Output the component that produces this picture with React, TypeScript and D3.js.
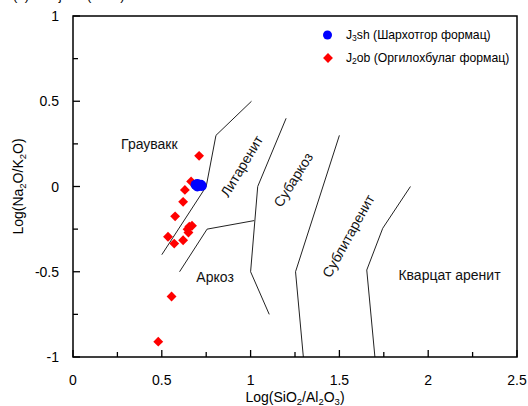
import React from "react";
import * as d3 from "d3";

// Sandstone classification: log(SiO2/Al2O3) vs log(Na2O/K2O)
const xTicks = [0, 0.5, 1, 1.5, 2, 2.5];
const yTicks = [-1, -0.5, 0, 0.5, 1];
const xMinorTicks = [0.25, 0.75, 1.25, 1.75, 2.25];
const yMinorTicks = [-0.75, -0.25, 0.25, 0.75];

// J3sh samples [log(SiO2/Al2O3), log(Na2O/K2O)]
const j3shPoints: [number, number][] = [
  [0.69, 0.01],
  [0.7, 0.015],
  [0.71, 0.005],
  [0.72, 0.01],
  [0.7, 0.0],
  [0.725, 0.003],
];

// J2ob samples
const j2obPoints: [number, number][] = [
  [0.71, 0.18],
  [0.665, 0.03],
  [0.63, -0.02],
  [0.62, -0.09],
  [0.575, -0.175],
  [0.655, -0.235],
  [0.67, -0.23],
  [0.645, -0.25],
  [0.65, -0.27],
  [0.535, -0.295],
  [0.57, -0.335],
  [0.62, -0.315],
  [0.555, -0.645],
  [0.48, -0.91],
];

// Field boundaries
const boundaries: [number, number][][] = [
  [[0.5, -0.4], [0.75, 0.0], [0.805, 0.3], [1.005, 0.5]],
  [[0.6, -0.5], [0.755, -0.25], [1.02, -0.2]],
  [[1.2, 0.4], [1.04, 0.0], [1.0, -0.5], [1.105, -0.75]],
  [[1.5, 0.3], [1.253, -0.5], [1.297, -1.0]],
  [[1.9, 0.0], [1.744, -0.245], [1.654, -0.49], [1.7, -1.0]],
];

// Field names: [x, y, rotation]
const fieldNames = ["Граувакк", "Литаренит", "Аркоз", "Субаркоз", "Сублитаренит", "Кварцат аренит"];
const fieldPos: [number, number, number][] = [
  [0.43, 0.25, 0],
  [0.95, 0.12, -59],
  [0.8, -0.53, 0],
  [1.24, 0.04, -58],
  [1.55, -0.29, -61],
  [2.12, -0.52, 0],
];

const seriesNames = ["J₃sh (Шархотгор формац)", "J₂ob (Оргилохбулаг формац)"];
const seriesColors = ["#0000ff", "#ff0000"];

const W = 528;
const H = 406;
const left = 73;
const right = 517;
const top = 16;
const bottom = 357;
const font = "Arial, 'Liberation Sans', sans-serif";

export default function App() {
  const x = d3.scaleLinear().domain([0, 2.5]).range([left, right]);
  const y = d3.scaleLinear().domain([-1, 1]).range([bottom, top]);
  const line = d3
    .line<[number, number]>()
    .x((d) => x(d[0]))
    .y((d) => y(d[1]));
  const diamond = d3.symbol(d3.symbolDiamond2, 62)();

  return (
    <svg
      width={W}
      height={H}
      style={{ position: "absolute", left: 0, top: 0, background: "#fff" }}
      fontFamily={font}
    >
      <rect x={0} y={0} width={W} height={H} fill="#fff" />
      <text x={13} y={-0.5} fontSize={13} fill="#000">
        (б) Pettijohn (1972)
      </text>

      {/* field boundaries */}
      {boundaries.map((b, i) => (
        <path key={i} d={line(b) ?? ""} fill="none" stroke="#222" strokeWidth={1} />
      ))}

      {/* field names */}
      {fieldNames.map((n, i) => {
        const [fx, fy, r] = fieldPos[i];
        return (
          <text
            key={n}
            x={x(fx)}
            y={y(fy)}
            fontSize={14}
            textAnchor="middle"
            dominantBaseline="central"
            transform={`rotate(${r},${x(fx)},${y(fy)})`}
            fill="#111"
          >
            {n}
          </text>
        );
      })}

      {/* samples */}
      {j2obPoints.map((p, i) => (
        <path key={"r" + i} d={diamond ?? ""} transform={`translate(${x(p[0])},${y(p[1])})`} fill={seriesColors[1]} />
      ))}
      {j3shPoints.map((p, i) => (
        <circle key={"b" + i} cx={x(p[0])} cy={y(p[1])} r={5} fill={seriesColors[0]} />
      ))}

      {/* frame */}
      <rect x={left} y={top} width={right - left} height={bottom - top} fill="none" stroke="#000" strokeWidth={1.5} />

      {/* ticks */}
      {yTicks.map((t) => (
        <g key={"yt" + t}>
          <line x1={left} x2={left + 7} y1={y(t)} y2={y(t)} stroke="#000" strokeWidth={1.3} />
          <text x={left - 14} y={y(t)} fontSize={14} textAnchor="end" dominantBaseline="central">
            {t}
          </text>
        </g>
      ))}
      {yMinorTicks.map((t) => (
        <line key={"ym" + t} x1={left} x2={left + 5} y1={y(t)} y2={y(t)} stroke="#000" strokeWidth={1.3} />
      ))}
      {xTicks.map((t) => (
        <g key={"xt" + t}>
          <line x1={x(t)} x2={x(t)} y1={bottom} y2={bottom - 7} stroke="#000" strokeWidth={1.3} />
          <text x={x(t)} y={380} fontSize={14} textAnchor="middle" dominantBaseline="central">
            {t}
          </text>
        </g>
      ))}
      {xMinorTicks.map((t) => (
        <line key={"xm" + t} x1={x(t)} x2={x(t)} y1={bottom} y2={bottom - 5} stroke="#000" strokeWidth={1.3} />
      ))}

      {/* axis titles */}
      <text x={(left + right) / 2} y={402} fontSize={14} textAnchor="middle">
        Log(SiO<tspan fontSize={9.5} dy={3}>2</tspan>
        <tspan dy={-3}>/Al</tspan>
        <tspan fontSize={9.5} dy={3}>2</tspan>
        <tspan dy={-3}>O</tspan>
        <tspan fontSize={9.5} dy={3}>3</tspan>
        <tspan dy={-3}>)</tspan>
      </text>
      <text transform={`translate(23,${(top + bottom) / 2}) rotate(-90)`} fontSize={14} textAnchor="middle">
        Log(Na<tspan fontSize={9.5} dy={3}>2</tspan>
        <tspan dy={-3}>O/K</tspan>
        <tspan fontSize={9.5} dy={3}>2</tspan>
        <tspan dy={-3}>O)</tspan>
      </text>

      {/* legend */}
      <circle cx={327.5} cy={35} r={4.5} fill={seriesColors[0]} />
      <path d={diamond ?? ""} transform="translate(328,58)" fill={seriesColors[1]} />
      <text x={346} y={35} fontSize={12.2} dominantBaseline="central">
        J<tspan fontSize={8.5} dy={3}>3</tspan>
        <tspan dy={-3}>sh (Шархотгор формац)</tspan>
      </text>
      <text x={346} y={58} fontSize={12.2} dominantBaseline="central">
        J<tspan fontSize={8.5} dy={3}>2</tspan>
        <tspan dy={-3}>ob (Оргилохбулаг формац)</tspan>
      </text>
    </svg>
  );
}
